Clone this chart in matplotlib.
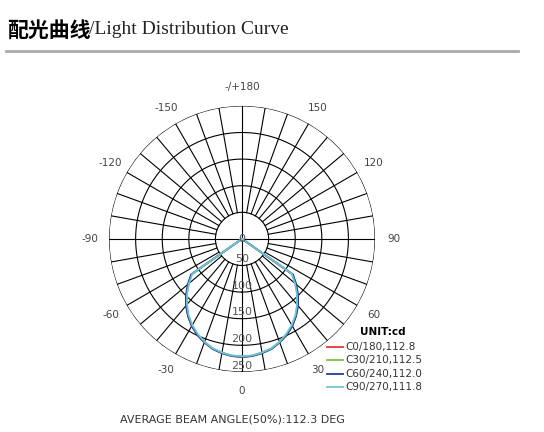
import matplotlib
matplotlib.use("Agg")
import matplotlib.pyplot as plt
from matplotlib.lines import Line2D
import numpy as np

# candela values, angles 0..60 (5 deg step), mirrored for negative side
angles = [0, 5, 10, 15, 20, 25, 30, 35, 40, 45, 50, 55, 60]
c0_180 = [222, 221, 218, 214, 207, 199, 189, 177, 163, 148, 132, 116, 0]
c30_210 = [221, 220, 217, 213, 206, 198, 188, 176, 162, 147, 131, 115, 0]
c60_240 = [222, 221, 218, 214, 207, 199, 189, 177, 164, 149, 133, 117, 0]
c90_270 = [221, 220, 217, 213, 206, 197, 187, 175, 161, 146, 130, 114, 0]
series_names = ["C0/180,112.8", "C30/210,112.5", "C60/240,112.0", "C90/270,111.8"]
series_colors = ["#e03a3a", "#7ac143", "#1f3f99", "#6cc5d6"]
ring_values = [50, 100, 150, 200, 250]
angle_labels = [0, 30, 60, 90, 120, 150, 180, -150, -120, -90, -60, -30]

fig = plt.figure(figsize=(5.44, 4.32), dpi=100)
ax = fig.add_axes([0.2004, 0.139, 0.489, 0.616], projection="polar")
ax.set_theta_zero_location("S")
ax.set_theta_direction(1)
ax.set_ylim(0, 250)
ax.grid(False)
ax.set_xticks([])
ax.set_yticks([])
ax.spines["polar"].set_visible(False)

t = np.linspace(0, 2 * np.pi, 361)
for rv in ring_values:
    ax.plot(t, np.full_like(t, rv), color="black", lw=0.8)
for a in range(0, 360, 10):
    r0 = 0 if a % 90 == 0 else 50
    ax.plot([np.radians(a)] * 2, [r0, 250], color="black", lw=0.8)

for rv in [0] + ring_values:
    ax.text(0, rv - 12 if rv else 0, str(rv), ha="center", va="center",
            fontsize=8, color="#555555", zorder=5)
for a in angle_labels:
    lab = "-/+180" if a == 180 else str(a)
    ax.text(np.radians(a), 285, lab, ha="center", va="center", fontsize=7.5, color="#444444")

full_ang = np.radians(np.array([-x for x in angles[::-1]] + angles[1:]))
for vals, col in zip([c0_180, c30_210, c60_240, c90_270], series_colors):
    full = np.array(vals[::-1] + vals[1:])
    ax.plot(full_ang, full, color=col, lw=1.3, zorder=4)

# legend
fig.text(360 / 544, 1 - 332 / 432, "UNIT:cd", fontsize=7.5, fontweight="bold", va="center")
for i, (name, col) in enumerate(zip(series_names, series_colors)):
    y = 1 - (347 + i * 13.3) / 432
    fig.add_artist(Line2D([327 / 544, 343 / 544], [y, y], color=col, lw=1.3))
    fig.text(345 / 544, y, name, fontsize=7.5, va="center", color="#333333")

fig.text(120 / 544, 1 - 419 / 432, "AVERAGE BEAM ANGLE(50%):112.3 DEG",
         fontsize=8, va="center", color="#333333")

# title
fig.text(7 / 544, 1 - 30 / 432, "配光曲线", fontsize=15, fontweight="bold",
         family=["Noto Sans CJK SC", "DejaVu Sans"], va="center")
fig.text(89 / 544, 1 - 30 / 432, "/Light Distribution Curve", fontsize=14,
         family="Liberation Serif", va="center", color="#222222")
fig.add_artist(Line2D([6 / 544, 518 / 544], [1 - 51 / 432] * 2, color="#aaaaaa", lw=2))

fig.savefig("out.png", dpi=100)
